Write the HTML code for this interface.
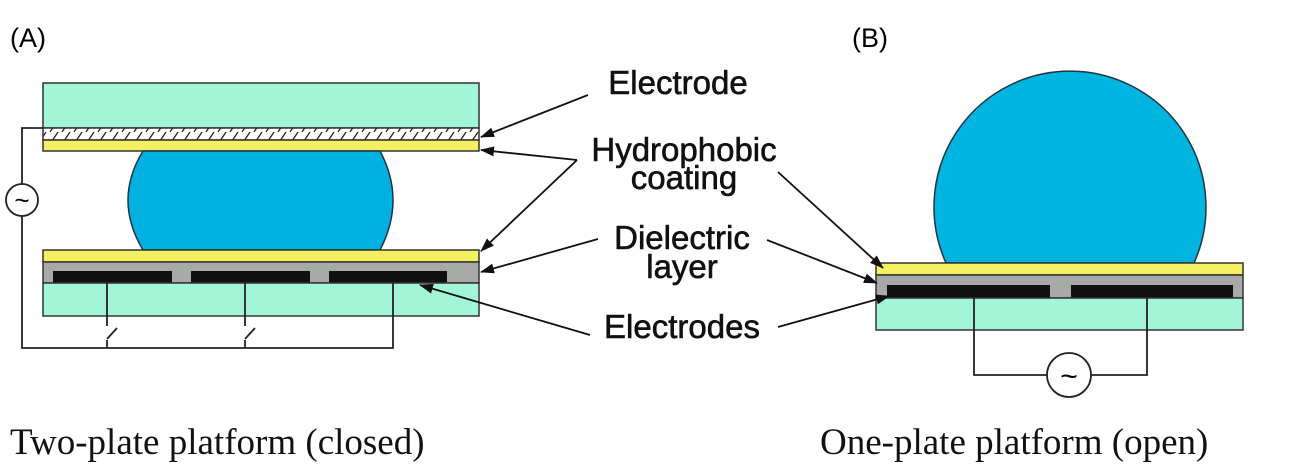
<!DOCTYPE html>
<html><head><meta charset="utf-8"><style>
html,body{margin:0;padding:0;background:#fff;}
svg{display:block;}
.l{font-family:"Liberation Sans",Arial,sans-serif;font-size:33px;fill:#111;stroke:#111;stroke-width:0.6;}
.c{font-family:"Liberation Serif",serif;font-size:37px;fill:#111;}
</style></head><body>
<svg width="1301" height="471" viewBox="0 0 1301 471" xmlns="http://www.w3.org/2000/svg">
<defs>
<pattern id="h" width="12" height="12" patternUnits="userSpaceOnUse">
<line x1="2" y1="12" x2="10" y2="0" stroke="#222" stroke-width="1.3"/>
</pattern>
<marker id="a" markerWidth="14" markerHeight="10" refX="13" refY="5" orient="auto" markerUnits="userSpaceOnUse">
<path d="M0,0 L14,5 L0,10 z" fill="#111"/></marker>
</defs>
<text x="10" y="47" style="font-family:'Liberation Sans',sans-serif;font-size:27px">(A)</text>
<text x="852" y="47" style="font-family:'Liberation Sans',sans-serif;font-size:27px">(B)</text>

<!-- Panel A -->
<rect x="43" y="83" width="436" height="45" fill="#a3f5d8" stroke="#333" stroke-width="1.5"/>
<rect x="43" y="128" width="436" height="12" fill="#fff" stroke="#333" stroke-width="1.5"/>
<rect x="43" y="128" width="436" height="12" fill="url(#h)"/>
<rect x="43" y="140" width="436" height="11" fill="#f4f062" stroke="#333" stroke-width="1.5"/>
<path d="M143,151 Q113,200 143,250 L380,250 Q406,200 380,151 Z" fill="#00b0e0" stroke="#234" stroke-width="1.5"/>
<rect x="43" y="250" width="436" height="12" fill="#f4f062" stroke="#333" stroke-width="1.5"/>
<rect x="43" y="262" width="436" height="21" fill="#a8aaa8" stroke="#333" stroke-width="1.5"/>
<rect x="53" y="271" width="119" height="12" fill="#111"/>
<rect x="191" y="271" width="119" height="12" fill="#111"/>
<rect x="329" y="271" width="118" height="12" fill="#111"/>
<rect x="43" y="283" width="436" height="33" fill="#a3f5d8" stroke="#333" stroke-width="1.5"/>
<g stroke="#222" stroke-width="1.8" fill="none">
<polyline points="43,128 22,128 22,184"/>
<polyline points="22,216 22,348 393,348 393,283"/>
<line x1="107" y1="283" x2="107" y2="326"/>
<line x1="107" y1="339" x2="117" y2="328"/>
<line x1="107" y1="340" x2="107" y2="348"/>
<line x1="245" y1="283" x2="245" y2="326"/>
<line x1="245" y1="339" x2="255" y2="328"/>
<line x1="245" y1="340" x2="245" y2="348"/>
<circle cx="22" cy="200" r="16" fill="#fff"/>
</g>
<text x="22" y="209" text-anchor="middle" style="font-family:'Liberation Sans',sans-serif;font-size:26px">~</text>

<!-- Panel B -->
<path d="M946,263 A136,136 0 1 1 1194,263 Z" fill="#00b4e0" stroke="#234" stroke-width="1.5"/>
<rect x="876" y="263" width="367" height="12" fill="#f4f062" stroke="#333" stroke-width="1.5"/>
<rect x="876" y="275" width="367" height="23" fill="#a8aaa8" stroke="#333" stroke-width="1.5"/>
<rect x="887" y="285" width="163" height="13" fill="#111"/>
<rect x="1071" y="285" width="162" height="13" fill="#111"/>
<rect x="876" y="298" width="367" height="32" fill="#a3f5d8" stroke="#333" stroke-width="1.5"/>
<g stroke="#222" stroke-width="1.8" fill="none">
<polyline points="974,298 974,375 1047,375"/>
<polyline points="1091,375 1147,375 1147,298"/>
<circle cx="1069" cy="375" r="22" fill="#fff"/>
</g>
<text x="1069" y="386" text-anchor="middle" style="font-family:'Liberation Sans',sans-serif;font-size:30px">~</text>

<!-- Labels -->
<text x="678" y="94" class="l" text-anchor="middle">Electrode</text>
<text x="684" y="161" class="l" text-anchor="middle">Hydrophobic</text>
<text x="684" y="189" class="l" text-anchor="middle">coating</text>
<text x="682" y="249" class="l" text-anchor="middle">Dielectric</text>
<text x="682" y="278" class="l" text-anchor="middle">layer</text>
<text x="682" y="338" class="l" text-anchor="middle">Electrodes</text>

<g stroke="#111" stroke-width="1.8" fill="none" marker-end="url(#a)">
<line x1="588" y1="95" x2="481" y2="137"/>
<line x1="577" y1="160" x2="481" y2="150"/>
<line x1="577" y1="160" x2="481" y2="251"/>
<line x1="778" y1="172" x2="883" y2="268"/>
<line x1="598" y1="239" x2="481" y2="272"/>
<line x1="767" y1="240" x2="877" y2="283"/>
<line x1="590" y1="335" x2="420" y2="285"/>
<line x1="778" y1="327" x2="889" y2="296"/>
</g>

<text x="10" y="454" class="c">Two-plate platform (closed)</text>
<text x="820" y="454" class="c">One-plate platform (open)</text>
</svg>
</body></html>
